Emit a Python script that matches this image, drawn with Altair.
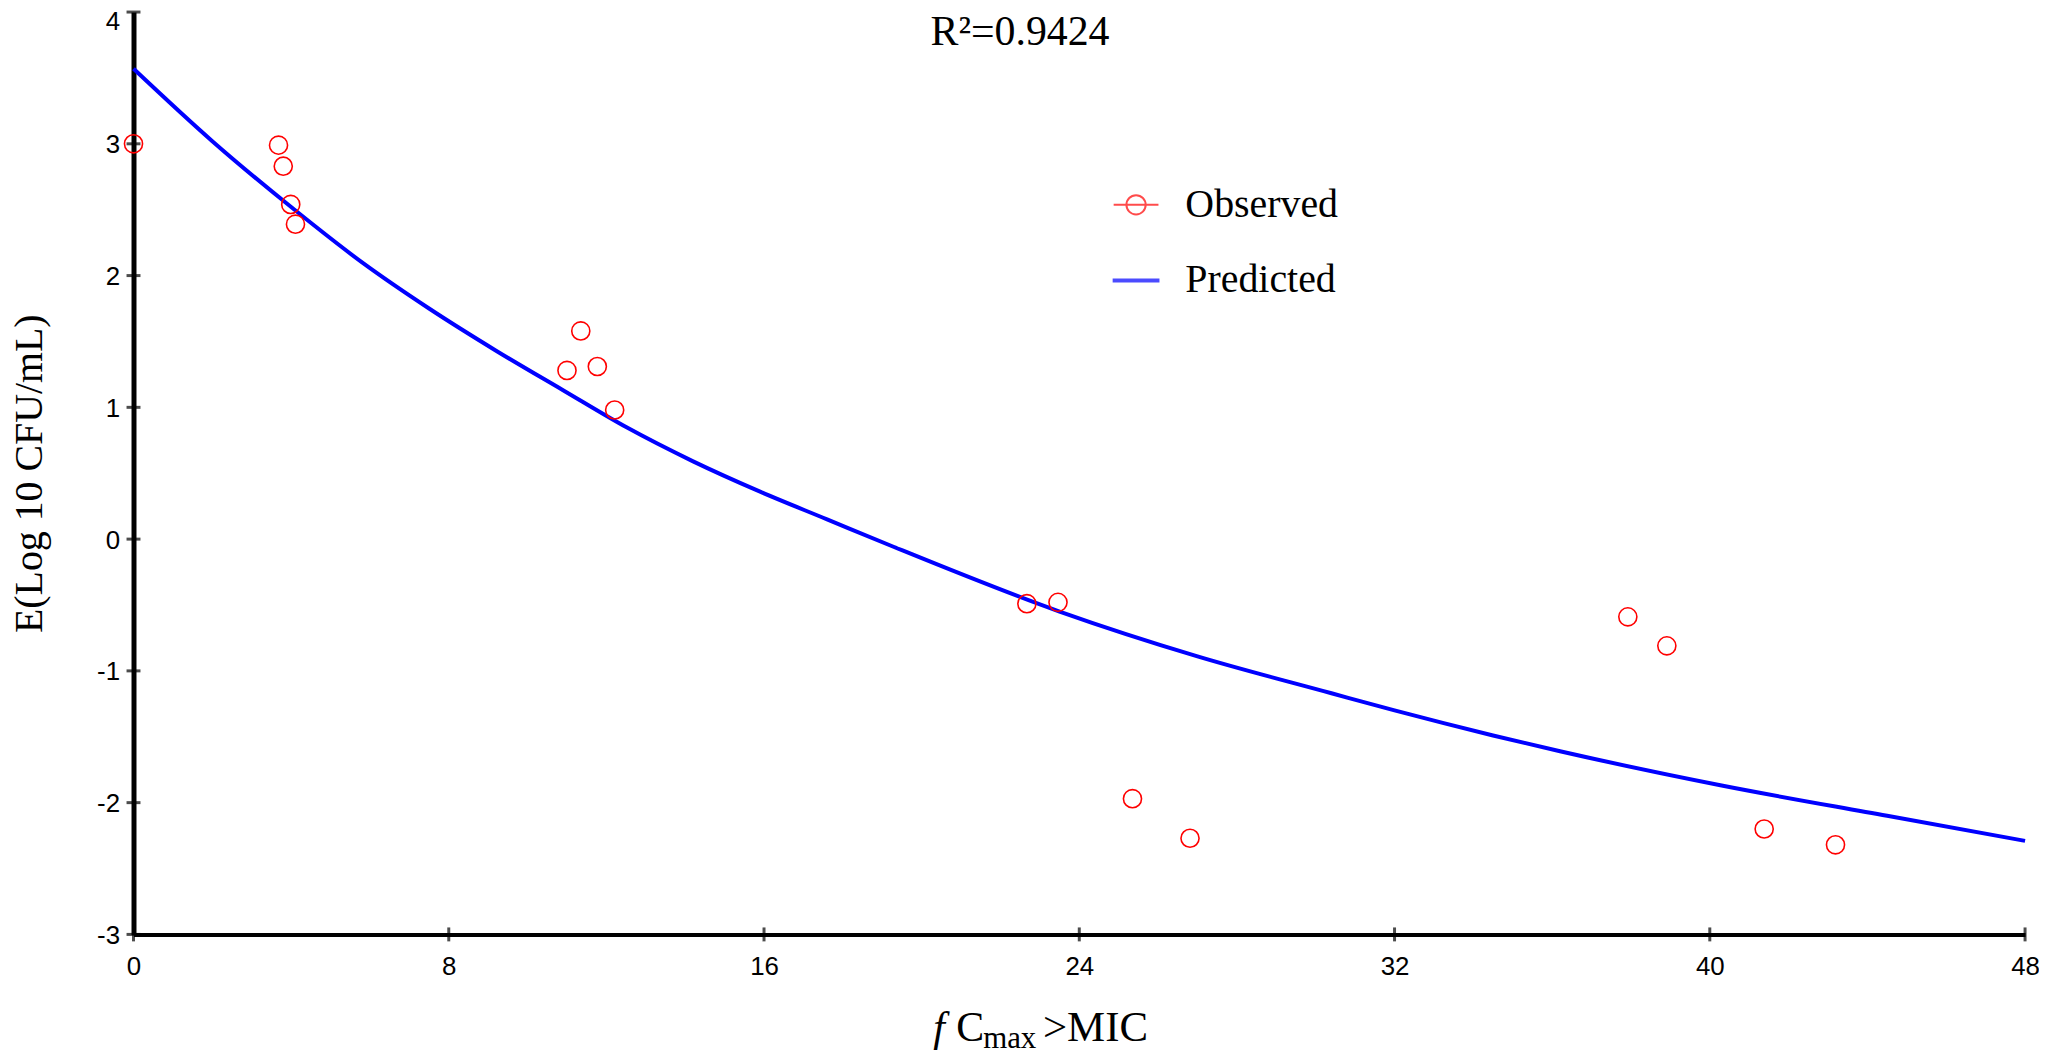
import altair as alt
import pandas as pd

# ---- data ----
obs_x = [0.0, 3.68, 3.80, 3.99, 4.11, 11.00, 11.35, 11.77, 12.21,
         22.67, 23.46, 25.35, 26.81, 37.92, 38.91, 41.38, 43.19]
obs_y = [3.00, 2.99, 2.83, 2.54, 2.39, 1.28, 1.58, 1.31, 0.98,
         -0.49, -0.48, -1.97, -2.27, -0.59, -0.81, -2.20, -2.32]

pred_x = [0.0, 2.0, 4.0, 5.8, 7.5, 9.2, 10.9, 12.5, 14.2, 15.9, 17.6, 19.3,
          23.5, 27.0, 30.4, 32.0, 34.5, 36.2, 40.3, 44.5, 48.0]
pred_y = [3.57, 3.02, 2.52, 2.10, 1.75, 1.43, 1.13, 0.85, 0.59, 0.36, 0.15, -0.06,
          -0.55, -0.89, -1.17, -1.30, -1.49, -1.61, -1.87, -2.10, -2.29]

x_ticks = [0, 8, 16, 24, 32, 40, 48]
y_ticks = [-3, -2, -1, 0, 1, 2, 3, 4]

series = ["Observed", "Predicted"]
series_colors = ["#FF0000", "#0000FF"]
series_shapes = [
    "M-1,0L1,0M0.43,0A0.43,0.43,0,1,1,-0.43,0A0.43,0.43,0,1,1,0.43,0",
    "M-1,-0.045L1,-0.045L1,0.045L-1,0.045Z",
]

r2_label = "R²=0.9424"
y_title = "E(Log 10 CFU/mL)"

W, H = 1899, 926
SERIF = "Liberation Serif"
SANS = "Liberation Sans"

obs_df = pd.DataFrame({"x": obs_x, "y": obs_y})
pred_df = pd.DataFrame({"x": pred_x, "y": pred_y})
xt_df = pd.DataFrame({"x": x_ticks})
yt_df = pd.DataFrame({"y": y_ticks})
leg_df = pd.DataFrame({"series": series})

xs = alt.Scale(domain=[0, 48], nice=False, zero=False)
ys = alt.Scale(domain=[-3, 4], nice=False, zero=False)

common_axis = dict(
    ticks=False, grid=False, domainColor="black",
    labelFont=SANS, labelFontSize=26, labelColor="black",
    labelOverlap=False, labelFlush=False, labelExpr="'' + datum.value",
)
x_axis = alt.Axis(values=x_ticks, title=None, labelPadding=19, domainWidth=4, **common_axis)
y_axis = alt.Axis(values=y_ticks, title=y_title, labelPadding=14, domainWidth=5,
                  labelOffset={"condition": {"test": "datum.value == 4", "value": 10}, "value": 1},
                  titleFont=SERIF, titleFontSize=40, titleFontWeight="normal",
                  titleColor="black", titleAngle=270, titleX=-104, titleY=463,
                  titleAlign="center", titleBaseline="middle", **common_axis)

x_enc = alt.X("x:Q", scale=xs, axis=x_axis)
y_enc = alt.Y("y:Q", scale=ys, axis=y_axis)

line = alt.Chart(pred_df).mark_line(
    color="#0000FF", strokeWidth=4, interpolate="monotone", clip=False
).encode(x=x_enc, y=y_enc)

points = alt.Chart(obs_df).mark_point(
    shape="circle", filled=False, size=330, strokeWidth=1.6,
    color="#FF0000", opacity=1, clip=False
).encode(x=x_enc, y=y_enc)

yticks = alt.Chart(yt_df).mark_tick(
    orient="horizontal", size=14, thickness=3, color="black"
).encode(y=y_enc, x=alt.value(0))

xticks = alt.Chart(xt_df).mark_tick(
    orient="vertical", size=14, thickness=3, color="black"
).encode(x=x_enc, y=alt.value(H))

legend = alt.Legend(
    title=None, orient="none", legendX=983, legendY=170, padding=0,
    labelFont=SERIF, labelFontSize=40, labelColor="black", labelLimit=500,
    symbolSize=2025, symbolStrokeWidth=2, labelOffset=26, rowPadding=32,
)
leg_layer = alt.Chart(leg_df).mark_point(filled=False, strokeWidth=2).encode(
    color=alt.Color("series:N", scale=alt.Scale(domain=series, range=series_colors), legend=legend),
    shape=alt.Shape("series:N", scale=alt.Scale(domain=series, range=series_shapes), legend=legend),
).transform_filter("false")

r2 = alt.Chart(pd.DataFrame({"t": [r2_label]})).mark_text(
    font=SERIF, fontSize=42, color="black", align="center", baseline="alphabetic"
).encode(text="t:N", x=alt.value(890), y=alt.value(33))

def piece(txt, px, py, size, style="normal"):
    return alt.Chart(pd.DataFrame({"t": [txt]})).mark_text(
        font=SERIF, fontSize=size, fontStyle=style, color="black",
        align="left", baseline="alphabetic"
    ).encode(text="t:N", x=alt.value(px), y=alt.value(py))

xt1 = piece("f", 803, 1033, 42, "italic")
xt2 = piece("C", 826, 1033, 42)
xt3 = piece("max", 853, 1040, 31)
xt4 = piece(">MIC", 913, 1033, 43)

chart = alt.layer(line, points, yticks, xticks, leg_layer, r2, xt1, xt2, xt3, xt4).properties(
    width=W, height=H,
    autosize=alt.AutoSizeParams(type="none"),
    padding={"left": 126, "top": 2, "right": 14, "bottom": 118},
    background="white",
).configure_view(strokeWidth=0)

chart.save("out.html", embed_options={"renderer": "svg", "actions": False})
